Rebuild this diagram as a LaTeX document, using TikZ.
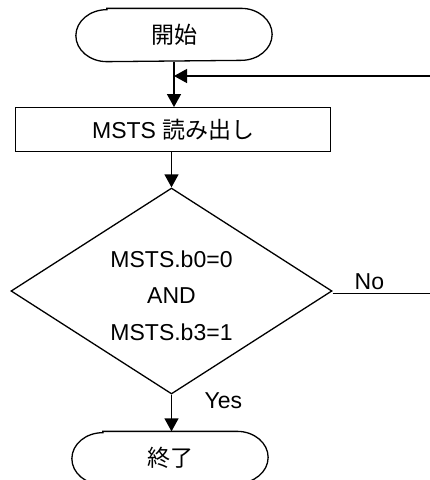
\documentclass[tikz,border=0pt]{standalone}
\usepackage{fontspec}
\setmainfont{Liberation Sans}
\newfontfamily\jpfont{Noto Sans CJK JP}
\usetikzlibrary{arrows.meta,shapes.geometric}
\begin{document}
\begin{tikzpicture}[x=1pt,y=-1pt,line width=1.3pt,
  txt/.style={font=\fontsize{23}{36.5}\selectfont, inner sep=0pt},
  termshape/.style={txt, rectangle, minimum width=195pt, minimum height=52pt},
  procbox/.style={txt, draw, rectangle, minimum width=315pt, minimum height=44pt},
  decision/.style={draw, diamond, minimum width=321pt, minimum height=206pt, inner sep=0pt},
  arr/.style={-{Triangle[length=13pt,width=14pt]}},
  termline/.style={draw}]
\useasboundingbox (0,0) rectangle (430,480);
\clip (0,0) rectangle (430,480);
% nodes
\node[termshape] (start) at (174,35) {\jpfont 開始};
\node[procbox] (proc) at (173.3,129.7) {MSTS {\jpfont 読み出し}};
\node[decision] (dec) at (171.5,291) {};
\node[txt, align=center] (cond) at (171.5,295.3) {MSTS.b0=0\\AND\\MSTS.b3=1};
\node[termshape] (end) at (170,458) {\jpfont 終了};
\node[txt, anchor=base west] (yes) at (204,408) {Yes};
\node[txt, anchor=base west] (no) at (354,289) {No};
\coordinate (fbin) at (430,76);
\coordinate (noend) at (430,293.5);
% terminator outlines
\path[termline] ([xshift=31pt]start.north west) -- ([xshift=-31pt]start.north east)
  arc[start angle=90,end angle=-90,x radius=31pt,y radius=26pt]
  -- ([xshift=31pt]start.south west)
  arc[start angle=270,end angle=90,x radius=31pt,y radius=26pt] -- cycle;
\path[termline] ([xshift=31pt]end.north west) -- ([xshift=-31pt]end.north east)
  arc[start angle=90,end angle=-90,x radius=31pt,y radius=26pt]
  -- ([xshift=31pt]end.south west)
  arc[start angle=270,end angle=90,x radius=31pt,y radius=26pt] -- cycle;
% connectors
\draw[arr] (start.south) -- (start.south |- proc.north);
\draw[arr] (fbin) -- (fbin -| start.south);
\draw[arr] (proc.south -| dec.north) -- (dec.north);
\draw (dec.east |- noend) -- (noend);
\draw[arr] (dec.south) -- (dec.south |- end.north);
\end{tikzpicture}
\end{document}
